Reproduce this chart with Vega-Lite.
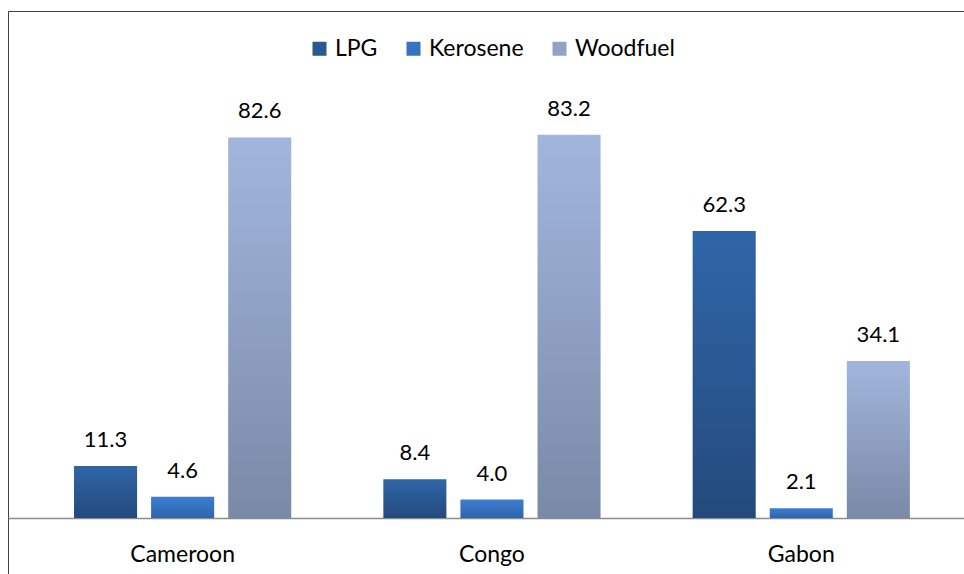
{
  "$schema": "https://vega.github.io/schema/vega-lite/v6.json",
  "autosize": "none",
  "padding": {"left": 8, "top": 11, "right": 0, "bottom": 0},
  "width": 957,
  "height": 564,
  "background": "white",
  "config": {
    "view": {"stroke": "#404040", "strokeWidth": 1},
    "font": "Lato"
  },
  "data": {
    "values": [
      {"country": "Cameroon", "fuel": "LPG", "share": 11.3},
      {"country": "Cameroon", "fuel": "Kerosene", "share": 4.6},
      {"country": "Cameroon", "fuel": "Woodfuel", "share": 82.6},
      {"country": "Congo", "fuel": "LPG", "share": 8.4},
      {"country": "Congo", "fuel": "Kerosene", "share": 4.0},
      {"country": "Congo", "fuel": "Woodfuel", "share": 83.2},
      {"country": "Gabon", "fuel": "LPG", "share": 62.3},
      {"country": "Gabon", "fuel": "Kerosene", "share": 2.1},
      {"country": "Gabon", "fuel": "Woodfuel", "share": 34.1}
    ]
  },
  "encoding": {
    "x": {
      "field": "country",
      "type": "nominal",
      "sort": ["Cameroon", "Congo", "Gabon"],
      "scale": {"paddingInner": 0.2977, "paddingOuter": 0.1958, "align": 0.545},
      "axis": {
        "title": null,
        "labelAngle": 0,
        "ticks": false,
        "tickSize": 0,
        "labelPadding": 25,
        "labelFontSize": 23,
        "labelFont": "Lato",
        "labelColor": "#000000",
        "domainColor": "#8c8c8c",
        "domainWidth": 1.5,
        "offset": -57
      }
    },
    "xOffset": {
      "field": "fuel",
      "type": "nominal",
      "sort": ["LPG", "Kerosene", "Woodfuel"],
      "scale": {"paddingInner": 0.1818, "paddingOuter": 0}
    },
    "y": {
      "field": "share",
      "type": "quantitative",
      "scale": {"domain": [-12.37, 110.05], "nice": false, "zero": false},
      "axis": null
    }
  },
  "layer": [
    {
      "mark": {"type": "bar", "size": 0, "strokeWidth": 0},
      "encoding": {
        "y": {"datum": 0, "type": "quantitative"},
        "y2": {"datum": 0},
        "color": {
          "field": "fuel",
          "type": "nominal",
          "sort": ["LPG", "Kerosene", "Woodfuel"],
          "scale": {
            "domain": ["LPG", "Kerosene", "Woodfuel"],
            "range": ["#2A5891", "#3672C0", "#90A2C6"]
          },
          "legend": {
            "title": null,
            "orient": "none",
            "direction": "horizontal",
            "legendX": 300,
            "legendY": 26,
            "padding": 0,
            "symbolType": "square",
            "symbolSize": 196,
            "symbolStrokeWidth": 0,
            "symbolOpacity": 1,
            "labelFontSize": 23,
            "labelFont": "Lato",
            "labelColor": "#000000",
            "labelOffset": 4,
            "columnPadding": 24
          }
        }
      }
    },
    {
      "transform": [{"filter": "datum.fuel === 'LPG'"}],
      "mark": {
        "type": "bar",
        "color": {"gradient": "linear", "x1": 0, "y1": 0, "x2": 0, "y2": 1, "stops": [{"offset": 0, "color": "#2F66A8"}, {"offset": 1, "color": "#244A7C"}]}
      }
    },
    {
      "transform": [{"filter": "datum.fuel === 'Kerosene'"}],
      "mark": {
        "type": "bar",
        "color": {"gradient": "linear", "x1": 0, "y1": 0, "x2": 0, "y2": 1, "stops": [{"offset": 0, "color": "#3C7ED2"}, {"offset": 1, "color": "#2F64AA"}]}
      }
    },
    {
      "transform": [{"filter": "datum.fuel === 'Woodfuel'"}],
      "mark": {
        "type": "bar",
        "color": {"gradient": "linear", "x1": 0, "y1": 0, "x2": 0, "y2": 1, "stops": [{"offset": 0, "color": "#A2B6DD"}, {"offset": 1, "color": "#7A89A7"}]}
      }
    },
    {
      "mark": {"type": "text", "baseline": "alphabetic", "dy": -19, "fontSize": 22, "font": "Lato", "color": "#000000"},
      "encoding": {
        "text": {"field": "share", "type": "quantitative", "format": ".1f"}
      }
    }
  ]
}
